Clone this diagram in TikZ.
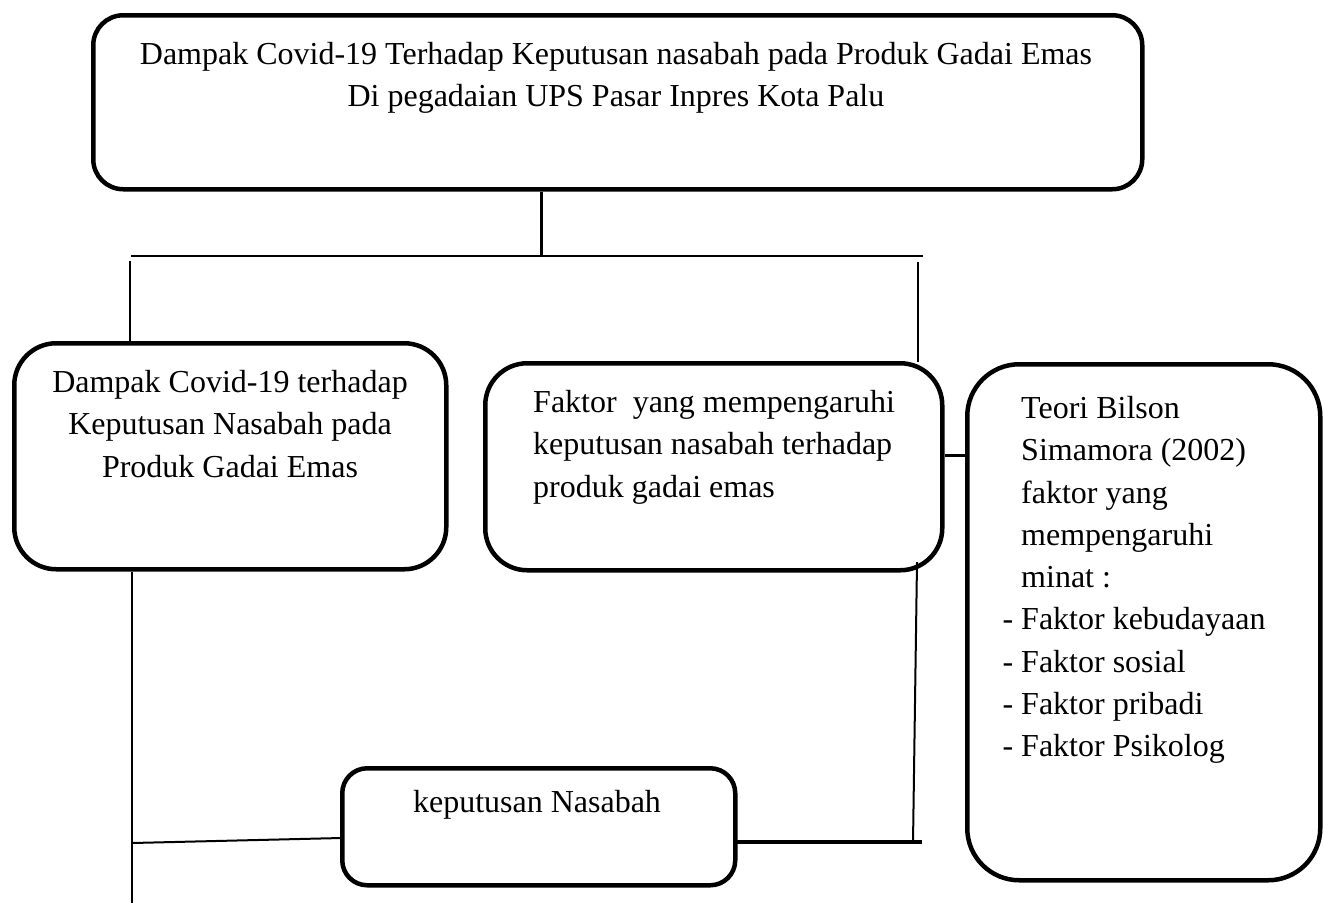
\documentclass[tikz,border=0pt]{standalone}
\usepackage{fontspec}
\setmainfont{Liberation Serif}
\begin{document}
\begin{tikzpicture}[x=1pt,y=-1pt,
  box/.style={draw=black,line width=4.5pt,rectangle,inner sep=0pt,anchor=north west},
  txt/.style={inner sep=0pt,font=\fontsize{32}{42.3}\selectfont},
  conn/.style={draw=black,line width=2pt},
  connthick/.style={draw=black,line width=3.5pt}]
\useasboundingbox (0,0) rectangle (1324,903);
% boxes
\node[box,rounded corners=30pt,minimum width=1049pt,minimum height=174pt] (top) at (91,13) {};
\node[box,rounded corners=42pt,minimum width=432pt,minimum height=226pt] (lbox) at (12,341) {};
\node[box,rounded corners=42pt,minimum width=457pt,minimum height=207pt] (mbox) at (483,361) {};
\node[box,rounded corners=52pt,minimum width=353pt,minimum height=516pt] (rbox) at (965,362) {};
\node[box,rounded corners=25pt,minimum width=393pt,minimum height=117pt] (bbox) at (340,766) {};
% texts
\node[txt,align=center,anchor=north] (ttop) at (616,42) {Dampak Covid-19 Terhadap Keputusan nasabah pada Produk Gadai Emas\\Di pegadaian UPS Pasar Inpres Kota Palu};
\node[txt,align=center,anchor=north] (tl) at (230,370) {Dampak Covid-19 terhadap\\Keputusan Nasabah pada\\Produk Gadai Emas};
\node[txt,align=left,anchor=north west] (tm) at (533,390) {Faktor\ \ yang mempengaruhi\\keputusan nasabah terhadap\\produk gadai emas};
\node[txt,align=left,anchor=north west] (tr) at (1021,396) {Teori Bilson\\Simamora (2002)\\faktor yang\\mempengaruhi\\minat :\\\llap{- }Faktor kebudayaan\\\llap{- }Faktor sosial\\\llap{- }Faktor pribadi\\\llap{- }Faktor Psikolog};
\node[txt,anchor=base] (tb) at (537,812) {keputusan Nasabah};
% junction coordinates
\coordinate (j1) at (541,257);
\coordinate (busl) at (131,256);
\coordinate (busr) at (923,256);
\coordinate (vl) at (130,261);
\coordinate (vr) at (918,262);
\coordinate (cm) at (940,455);
\coordinate (ll) at (132,563);
\coordinate (lb) at (132,903);
\coordinate (lj) at (132,843);
\coordinate (bj) at (341,838);
\coordinate (rt) at (917,562);
\coordinate (rj) at (913,843);
\coordinate (bs) at (736,842);
\coordinate (be) at (922,842);
% connectors
\draw[conn,line width=3pt] (top.south -| j1) -- (j1);
\draw[conn] (busl) -- (busr);
\draw[conn,line width=2.5pt] (vl) -- (lbox.north -| vl);
\draw[conn] (vr) -- (918,362);
\draw[conn,line width=3pt] (mbox.east |- cm) -- (rbox.west |- cm);
\draw[conn] (lbox.south -| ll) -- (lb);
\draw[conn] (lj) -- (bj);
\draw[conn] (rt) -- (rj);
\draw[connthick] (bs) -- (be);
\end{tikzpicture}
\end{document}
